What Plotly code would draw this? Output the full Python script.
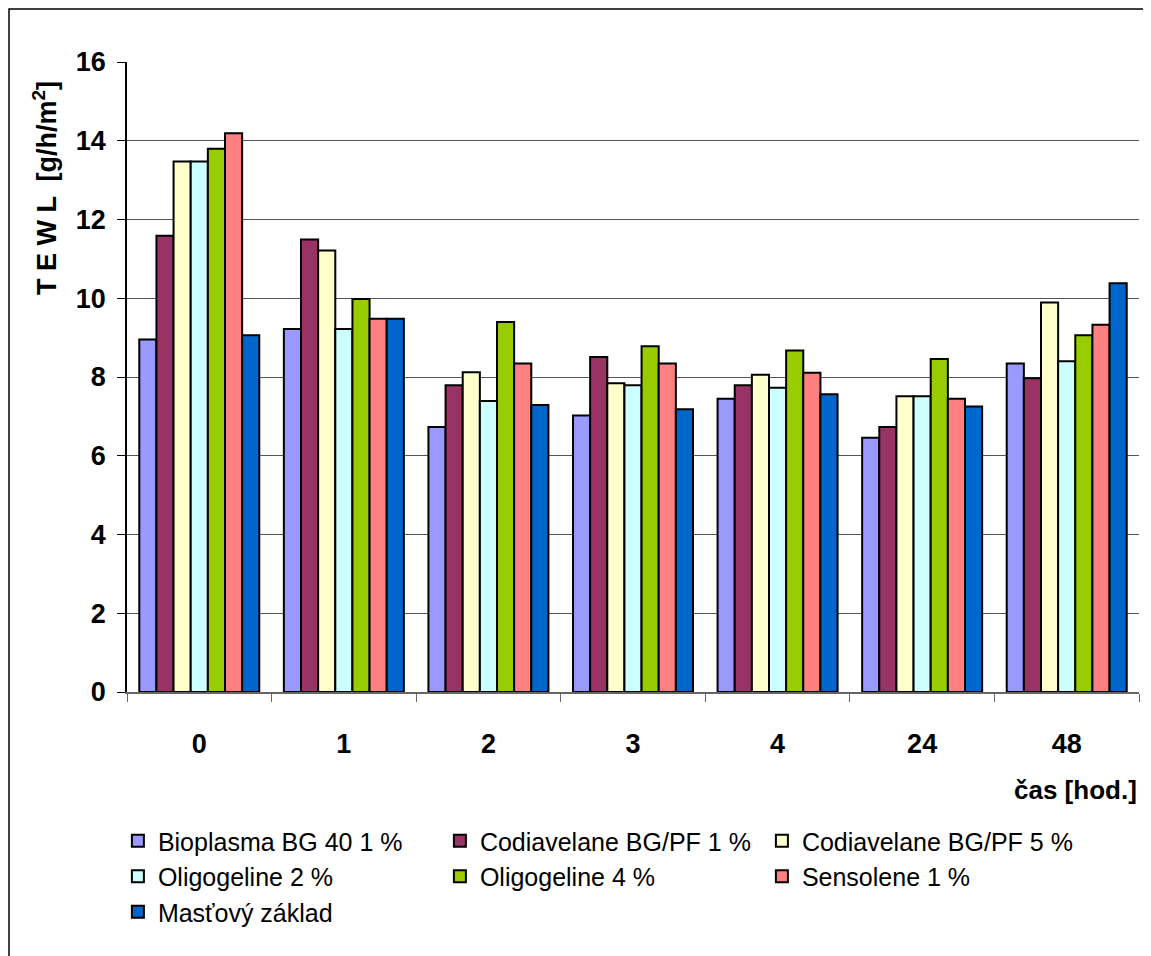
import plotly.graph_objects as go

categories = ["0", "1", "2", "3", "4", "24", "48"]
series_names = ["Bioplasma BG 40 1 %", "Codiavelane BG/PF 1 %", "Codiavelane BG/PF 5 %",
                "Oligogeline 2 %", "Oligogeline 4 %", "Sensolene 1 %", "Masťový základ"]
bioplasma = [8.95, 9.22, 6.73, 7.02, 7.45, 6.46, 8.34]
codia1 = [11.59, 11.49, 7.79, 8.51, 7.79, 6.73, 7.97]
codia5 = [13.47, 11.21, 8.12, 7.84, 8.06, 7.51, 9.89]
oligo2 = [13.47, 9.22, 7.39, 7.79, 7.73, 7.51, 8.40]
oligo4 = [13.80, 9.98, 9.40, 8.78, 8.67, 8.46, 9.06]
senso = [14.19, 9.48, 8.34, 8.34, 8.11, 7.45, 9.33]
mast = [9.06, 9.48, 7.29, 7.18, 7.56, 7.25, 10.38]
colors = ["#9999FF", "#993366", "#FFFFCC", "#CCFFFF", "#99CC00", "#FF8080", "#0066CC"]

data = [bioplasma, codia1, codia5, oligo2, oligo4, senso, mast]

FONT = "Liberation Sans, Arial, sans-serif"

fig = go.Figure()
for name, vals, col in zip(series_names, data, colors):
    fig.add_trace(go.Bar(x=categories, y=vals, name=name,
                         marker=dict(color=col, line=dict(color="black", width=2))))

fig.update_layout(
    width=1143, height=948,
    margin=dict(l=119, r=12, t=54, b=264),
    paper_bgcolor="white", plot_bgcolor="white",
    barmode="group", bargap=0.17, bargroupgap=0,
    font=dict(family=FONT, color="black"),
    showlegend=True,
    legend=dict(orientation="h", x=-0.009, xanchor="left", y=-0.2, yanchor="top",
                entrywidth=277, entrywidthmode="pixels",
                font=dict(size=25, family=FONT),
                traceorder="normal", itemwidth=30),
)
fig.update_xaxes(type="category", tickson="boundaries", ticks="outside", ticklen=8,
                 tickcolor="#666666", showline=True, linecolor="#666666", linewidth=1.5,
                 tickfont=dict(size=27, family=FONT, weight="bold"),
                 ticklabelstandoff=27)
fig.update_yaxes(range=[0, 16], dtick=2, ticks="outside", ticklen=8, tickcolor="black",
                 showline=True, linecolor="black", linewidth=1.5,
                 showgrid=True, gridcolor="#555555", gridwidth=1,
                 tickfont=dict(size=27, family=FONT, weight="bold"),
                 ticklabelstandoff=6, zeroline=False)
fig.add_annotation(text="<b>T E W L  [g/h/m<sup>2</sup>]</b>", xref="paper", yref="paper",
                   x=-0.081, y=0.8, xanchor="center", yanchor="middle", textangle=-90,
                   showarrow=False, font=dict(size=27, family=FONT))
fig.add_annotation(text="<b>čas [hod.]</b>", xref="paper", yref="paper", x=1.0, y=-0.155,
                   xanchor="right", yanchor="middle", showarrow=False,
                   font=dict(size=26, family=FONT))
fig.add_shape(type="rect", xref="paper", yref="paper", x0=-0.1166, x1=1.0069, y0=-0.43, y1=1.084,
              line=dict(color="black", width=1.5), fillcolor="rgba(0,0,0,0)")
fig.write_html("out.html")
